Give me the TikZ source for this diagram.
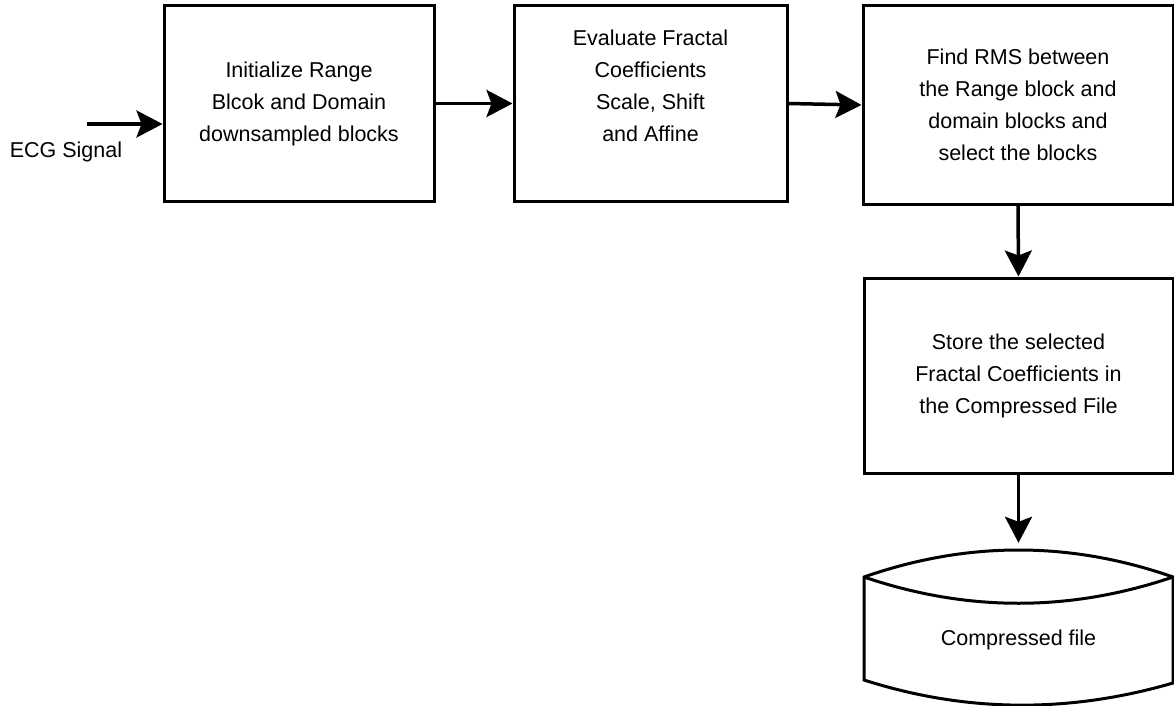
\documentclass[tikz,border=0pt]{standalone}
\usepackage{fontspec}
\setmainfont{Liberation Sans}
\usetikzlibrary{arrows.meta}
\begin{document}
\begin{tikzpicture}[x=1pt,y=-1pt,
 box/.style={draw, line width=3pt, align=center, font=\fontsize{21.5}{32}\selectfont, inner sep=0pt},
 arr/.style={line width=3.5pt, -{Stealth[length=26pt,width=27pt,inset=5pt]}},
 lbl/.style={font=\fontsize{21.5}{32}\selectfont, inner sep=0pt, align=center},
 shapeline/.style={line width=3pt, line join=miter}]
\useasboundingbox (0,0) rectangle (1174,706);
\node[box, minimum width=270pt, minimum height=195pt] (b1) at (299,103.5)
  {Initialize Range\\Blcok and Domain\\downsampled blocks};
\node[box, minimum width=273pt, minimum height=195pt] (b2) at (650.5,103.5)
  {Evaluate Fractal\\Coefficients\\Scale, Shift\\and Affine\\[-6pt]\strut};
\node[box, minimum width=310pt, minimum height=198pt] (b3) at (1018,105)
  {Find RMS between\\the Range block and\\domain blocks and\\select the blocks};
\node[box, minimum width=309pt, minimum height=195pt] (b4) at (1018.5,375.5)
  {Store the selected\\Fractal Coefficients in\\the Compressed File};
\node[draw=none, minimum width=309pt, minimum height=155pt, inner sep=0pt] (cyl) at (1018.5,627.5) {};
\draw[shapeline] (864,577) .. controls (967,541) and (1070,541) .. (1173,577)
  -- (1173,683) .. controls (1070,713) and (967,713) .. (864,680) -- cycle;
\draw[shapeline] (864,577) .. controls (967,612) and (1070,612) .. (1173,577);
\node[lbl] (cyltext) at (1018.5,640) {Compressed file};
\node[lbl] (ecg) at (66,152) {ECG Signal};
\coordinate (ecgstart) at (87,124);
\draw[arr] (ecgstart) -- (ecgstart -| b1.west);
\draw[arr] (b1.east) -- (b2.west);
\draw[arr] (b2.east) -- (b3.west);
\draw[arr] (b3.south) -- (b4.north);
\draw[arr] (b4.south) -- ([yshift=7pt]cyl.north);
\end{tikzpicture}
\end{document}
